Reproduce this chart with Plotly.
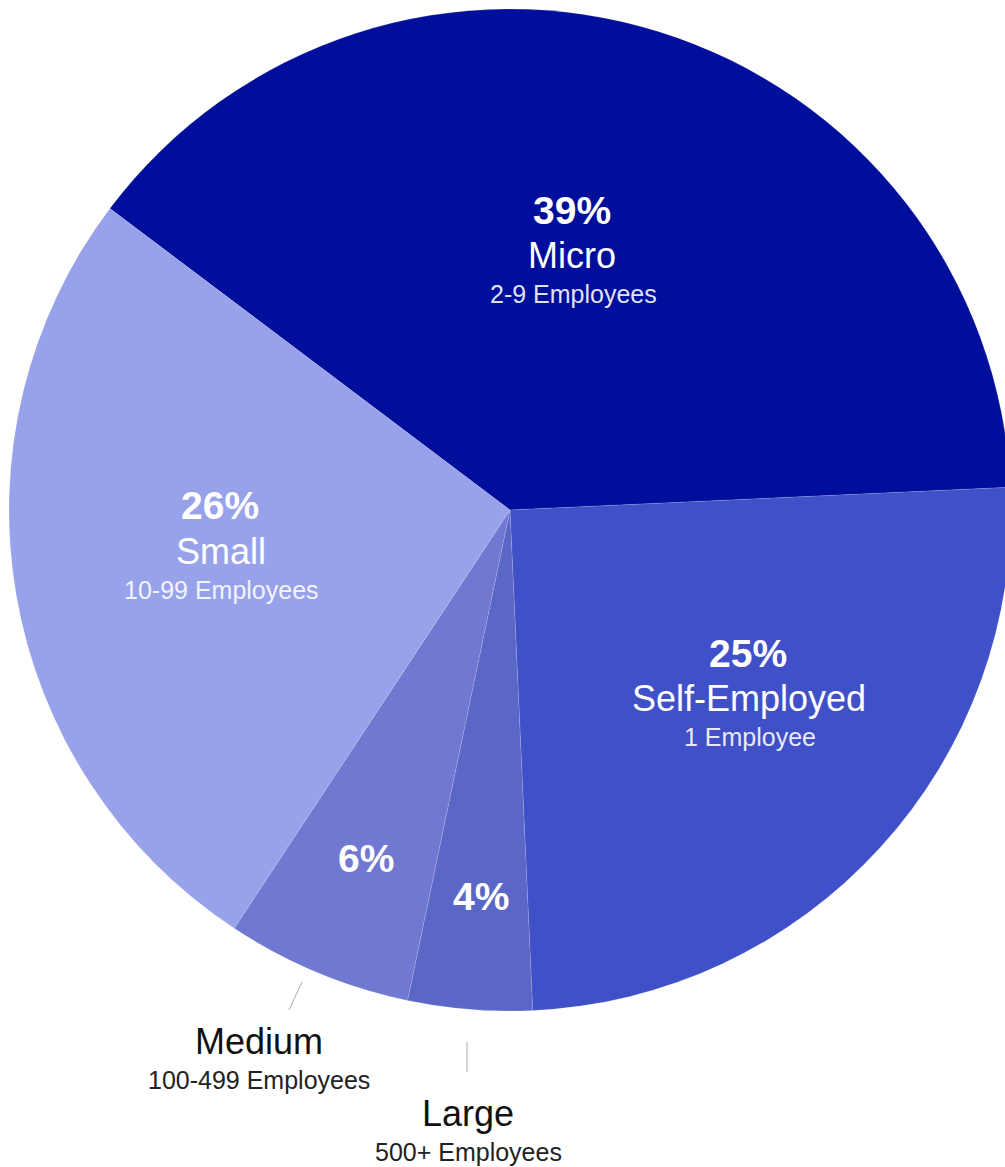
import plotly.graph_objects as go

# Share of employment by business size
categories = ["Micro", "Self-Employed", "Large", "Medium", "Small"]
shares = [39, 25, 4, 6, 26]
sublabels = ["2-9 Employees", "1 Employee", "500+ Employees", "100-499 Employees", "10-99 Employees"]
colors = ["#000F9B", "#4050C8", "#5B67C6", "#7078D1", "#98A2EB"]

W, H = 1016, 1167
CX, CY, R = 510, 510, 501  # pie centre and radius in pixels

fig = go.Figure(go.Pie(
    labels=categories,
    values=shares,
    sort=False,
    direction="clockwise",
    rotation=-53,
    marker=dict(colors=colors, line=dict(color="rgba(255,255,255,0.25)", width=0.5)),
    textinfo="none",
    hoverinfo="label+percent",
    showlegend=False,
    domain=dict(x=[(CX - R) / W, (CX + R) / W],
                y=[1 - (CY + R) / H, 1 - (CY - R) / H]),
))

FONT = "Liberation Sans, Arial, sans-serif"


def px(x, y):
    return x / W, 1 - y / H


def add_text(x, y, text, size, color, bold=False):
    ax, ay = px(x, y)
    fig.add_annotation(
        x=ax, y=ay, xref="paper", yref="paper",
        text=f"<b>{text}</b>" if bold else text,
        showarrow=False, xanchor="center", yanchor="middle",
        font=dict(family=FONT, size=size, color=color),
    )


# label placements: (percent, name, sublabel) centres
inside = {
    "Micro": [(572, 210), (572, 255), (573, 294)],
    "Self-Employed": [(748, 653), (749, 698), (750, 737)],
    "Small": [(220, 505), (221, 551), (221, 590)],
}
pct_only = {"Large": (481, 896), "Medium": (366, 858)}
outside = {"Medium": [(259, 1041), (259, 1080)], "Large": [(468, 1113), (468, 1152)]}

for cat, val, sub in zip(categories, shares, sublabels):
    if cat in inside:
        (p1, p2, p3) = inside[cat]
        add_text(*p1, f"{val}%", 39, "white", bold=True)
        add_text(*p2, cat, 36, "white")
        add_text(*p3, sub, 25, "rgba(255,255,255,0.9)")
    else:
        add_text(*pct_only[cat], f"{val}%", 39, "white", bold=True)
        (q1, q2) = outside[cat]
        add_text(*q1, cat, 36, "#111111")
        add_text(*q2, sub, 25, "#222222")

# leader lines for the two small slices
for (x0, y0, x1, y1) in [(302, 982, 289, 1010), (467, 1042, 467, 1072)]:
    a0, b0 = px(x0, y0)
    a1, b1 = px(x1, y1)
    fig.add_shape(type="line", xref="paper", yref="paper",
                  x0=a0, y0=b0, x1=a1, y1=b1,
                  line=dict(color="#AAAAAA", width=1))

fig.update_layout(
    width=W, height=H,
    margin=dict(l=0, r=0, t=0, b=0),
    paper_bgcolor="white",
    plot_bgcolor="white",
)

fig.write_html("out.html")
